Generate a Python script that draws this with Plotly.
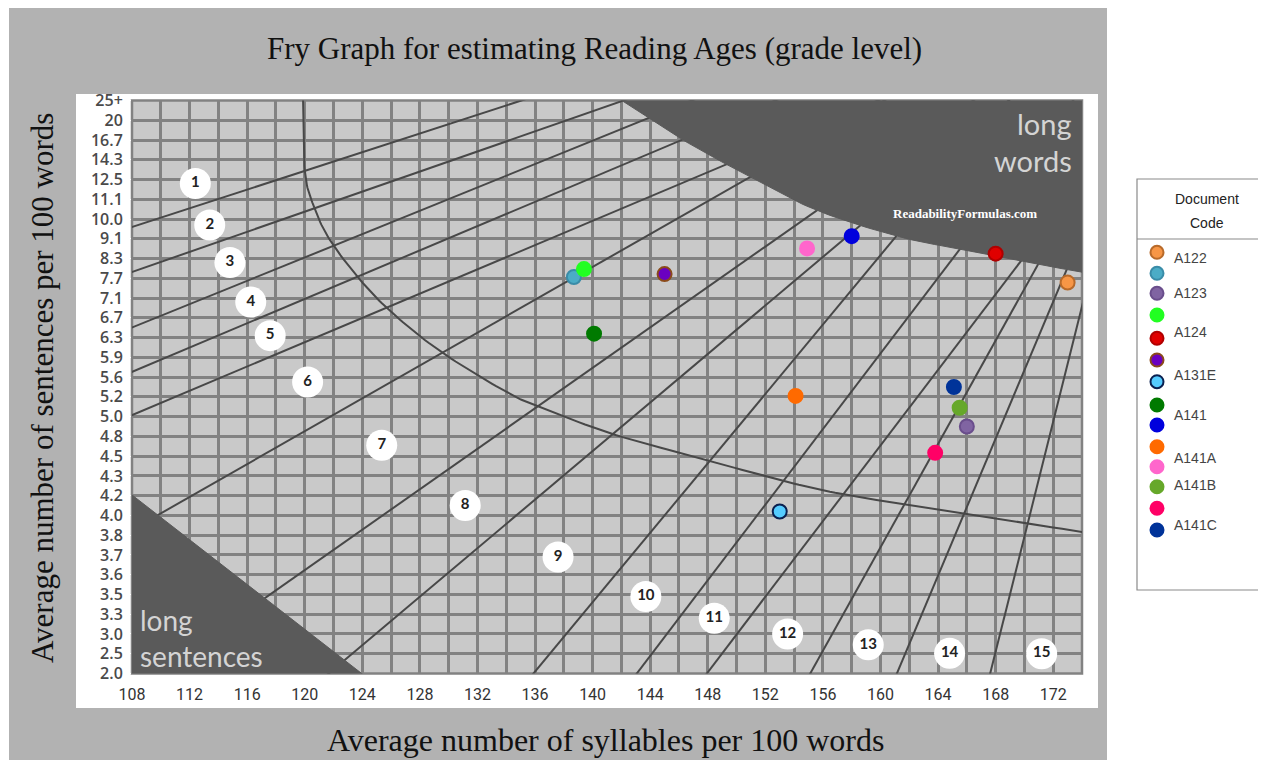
import numpy as np
import plotly.graph_objects as go

W, H = 1266, 766
OFF = 8  # page body margin

# ---------------- data ----------------
x_ticks = list(range(108, 173, 4))
y_tick_labels = ["2.0", "2.5", "3.0", "3.3", "3.5", "3.6", "3.7", "3.8", "4.0", "4.2",
                 "4.3", "4.5", "4.8", "5.0", "5.2", "5.6", "5.9", "6.3", "6.7", "7.1",
                 "7.7", "8.3", "9.1", "10.0", "11.1", "12.5", "14.3", "16.7", "20", "25+"]
y_tick_values = [2.0, 2.5, 3.0, 3.3, 3.5, 3.6, 3.7, 3.8, 4.0, 4.2,
                 4.3, 4.5, 4.8, 5.0, 5.2, 5.6, 5.9, 6.3, 6.7, 7.1,
                 7.7, 8.3, 9.1, 10.0, 11.1, 12.5, 14.3, 16.7, 20, 25]

# documents (syllables per 100 words, sentences per 100 words)
doc_syllables = [173.0, 138.7, 166.0, 139.4, 168.0, 145.0, 153.0, 140.1, 158.0, 154.1, 154.9, 165.5, 163.8, 165.1]
doc_sentences = [7.57, 7.74, 4.90, 7.98, 8.50, 7.83, 4.04, 6.38, 9.22, 5.22, 8.71, 5.09, 4.55, 5.40]
doc_colors = ["#F79646", "#4BACC6", "#8064A2", "#22FF22", "#E00000", "#6A00C0", "#55CCFF",
              "#007A00", "#0000DD", "#FF6A00", "#FF66CC", "#66A82A", "#FF0066", "#003399"]
doc_borders = ["#B86A2A", "#3A8CA8", "#6A4E8C", "#22FF22", "#B00000", "#8B4A1A", "#0A2050",
               "#007A00", "#0000DD", "#FF6A00", "#FF66CC", "#66A82A", "#FF0066", "#003399"]
legend_labels = ["A122", "A123", "A124", "A131E", "A141", "A141A", "A141B", "A141C"]

# grade numbers and their position on the Fry template (syllables, grid row)
grade_numbers = [str(i) for i in range(1, 16)]
grade_x = [112.4, 113.4, 114.8, 116.25, 117.6, 120.2, 125.35, 131.15, 137.6, 143.7, 148.45, 153.55, 159.15, 164.8, 171.2]
grade_row = [24.8, 22.7, 20.8, 18.8, 17.1, 14.75, 11.55, 8.5, 5.9, 3.9, 2.8, 2.0, 1.45, 1.02, 1.0]

# grade boundary lines (two points each, syllables / grid row)
grade_lines = [
    ((108.0, 22.60), (134.5, 28.87)),
    ((108.0, 20.32), (141.2, 28.76)),
    ((108.0, 17.51), (141.2, 27.32)),
    ((108.0, 15.27), (141.2, 25.47)),
    ((108.0, 13.08), (141.2, 23.28)),
    ((109.8, 8.02), (150.95, 25.13)),
    ((117.36, 3.88), (155.58, 23.44)),
    ((122.92, 0.77), (145.85, 14.85)),
    ((135.89, 0.0), (152.8, 14.85)),
    ((143.07, 0.0), (158.59, 14.85)),
    ((147.94, 0.0), (163.46, 14.85)),
    ((155.12, 0.0), (166.47, 14.85)),
    ((161.14, 0.0), (169.71, 14.85)),
    ((167.62, 0.0), (172.72, 14.85)),
]
# curved valid-area line
curve_x = [119.88, 120.0, 120.6, 121.76, 124.05, 126.42, 129.61, 133.78, 135.66, 141.22, 147.47, 153.03, 157.69, 165.75, 174.5]
curve_row = [29.2, 25.47, 23.7, 21.93, 19.75, 18.03, 16.21, 14.34, 13.68, 12.16, 10.9, 9.79, 9.03, 8.12, 7.1]
# long words region boundary
lw_x = [141.6, 146.31, 150.95, 155.58, 161.38, 166.0, 170.63, 174.5]
lw_row = [29.2, 26.99, 25.13, 23.44, 22.09, 21.42, 20.75, 20.25]
# long sentences triangle
ls_x = [107.5, 124.4, 107.5]
ls_row = [9.32, -0.25, -0.25]


def ypos(v):
    return np.interp(v, y_tick_values, np.arange(len(y_tick_values)))


def smooth(xs, ys, n=14):
    P = np.column_stack([xs, ys]).astype(float)
    P = np.vstack([P[0], P, P[-1]])
    out = []
    for i in range(1, len(P) - 2):
        p0, p1, p2, p3 = P[i - 1], P[i], P[i + 1], P[i + 2]
        for t in np.linspace(0, 1, n, endpoint=False):
            out.append(0.5 * ((2 * p1) + (-p0 + p2) * t + (2 * p0 - 5 * p1 + 4 * p2 - p3) * t ** 2
                              + (-p0 + 3 * p1 - 3 * p2 + p3) * t ** 3))
    out.append(P[-2])
    out = np.array(out)
    return out[:, 0], out[:, 1]


def px(x):
    return (x - OFF) / W


def py(y):
    return 1 - (y - OFF) / H


fig = go.Figure()

LINE_COL = "#484848"
# grade lines
for (a, b) in grade_lines:
    a = np.array(a); b = np.array(b)
    p0 = a + (-0.15) * (b - a)
    p1 = a + 3.0 * (b - a)
    fig.add_trace(go.Scatter(x=[p0[0], p1[0]], y=[p0[1], p1[1]], mode="lines",
                             line=dict(color=LINE_COL, width=2), hoverinfo="skip", showlegend=False))

cx, cy = smooth(curve_x, curve_row)
fig.add_trace(go.Scatter(x=cx, y=cy, mode="lines", line=dict(color=LINE_COL, width=2),
                         hoverinfo="skip", showlegend=False))

# dark regions
DARK = "#5a5a5a"
bx, by = smooth(lw_x, lw_row)
fig.add_trace(go.Scatter(x=list(bx) + [175, 175, 141.6], y=list(by) + [20.25, 30, 30], mode="lines",
                         fill="toself", fillcolor=DARK, line=dict(color=DARK, width=1),
                         hoverinfo="skip", showlegend=False))
fig.add_trace(go.Scatter(x=ls_x, y=ls_row, mode="lines", fill="toself", fillcolor=DARK,
                         line=dict(color=DARK, width=1), hoverinfo="skip", showlegend=False))

# grade number circles
fig.add_trace(go.Scatter(x=grade_x, y=grade_row, mode="markers+text", text=grade_numbers,
                         textposition="middle center",
                         textfont=dict(family="Lato", size=15, color="#222222", weight="bold"),
                         marker=dict(size=31, color="white", line=dict(width=0)),
                         hoverinfo="skip", showlegend=False))

# documents
fig.add_trace(go.Scatter(x=doc_syllables, y=ypos(doc_sentences), mode="markers",
                         marker=dict(size=14, color=doc_colors, line=dict(color=doc_borders, width=2)),
                         showlegend=False))

# legend markers (secondary axes in pixel units)
leg_rows = [252.3, 273.3, 293.3, 315, 338.3, 360, 381.7, 405, 425, 446.7, 466.7, 486.7, 508.3, 530]
fig.add_trace(go.Scatter(x=[1157] * len(leg_rows), y=leg_rows, mode="markers", xaxis="x2", yaxis="y2",
                         marker=dict(size=13, color=doc_colors, line=dict(color=doc_borders, width=2)),
                         hoverinfo="skip", showlegend=False))

leg_label_rows = [258.3, 293.3, 331.7, 375, 415, 458.3, 485, 525]

GRID = "#828282"
fig.update_layout(
    width=W, height=H,
    margin=dict(l=0, r=0, t=0, b=0, pad=0, autoexpand=False),
    paper_bgcolor="white",
    plot_bgcolor="rgba(0,0,0,0)",
    showlegend=False,
    xaxis=dict(domain=[px(132), px(1082)], range=[108, 174], tickvals=x_ticks,
               ticktext=[str(v) for v in x_ticks], showgrid=True, gridcolor=GRID, gridwidth=2.5,
               minor=dict(tickvals=list(range(110, 175, 4)), showgrid=True, gridcolor=GRID, gridwidth=2.5),
               zeroline=False, ticks="outside", ticklen=6, tickcolor="white", automargin=False,
               tickfont=dict(family="Liberation Sans Narrow, Roboto", size=16, color="#333333"),
               fixedrange=True),
    yaxis=dict(domain=[py(673.5), py(100.5)], range=[0, 29], tickvals=list(range(30)),
               ticktext=y_tick_labels, showgrid=True, gridcolor=GRID, gridwidth=2.5, zeroline=False,
               ticks="outside", ticklen=5, tickcolor="white", automargin=False,
               tickfont=dict(family="Open Sans", size=16, color="#4a4a4a", weight=600), fixedrange=True),
    xaxis2=dict(domain=[px(1137), px(1265)], range=[1137, 1265], visible=False, anchor="y2"),
    yaxis2=dict(domain=[py(590), py(178)], range=[590, 178], visible=False, anchor="x2"),
)

shapes = [
    # grey outer frame
    dict(type="rect", xref="paper", yref="paper", x0=px(9), x1=px(1107), y0=py(760), y1=py(6),
         fillcolor="#b2b2b2", line=dict(width=0), layer="below"),
    # white panel
    dict(type="rect", xref="paper", yref="paper", x0=px(76), x1=px(1098), y0=py(708), y1=py(94),
         fillcolor="white", line=dict(width=0), layer="below"),
    # plot cells
    dict(type="rect", xref="paper", yref="paper", x0=px(132), x1=px(1082), y0=py(673.5), y1=py(100.5),
         fillcolor="#c9c9c9", line=dict(color=GRID, width=2.5), layer="below"),
    # legend box
    dict(type="rect", xref="paper", yref="paper", x0=px(1137), x1=px(1265), y0=py(590), y1=py(179),
         fillcolor="white", line=dict(color="#8a8a8a", width=1.2), layer="below"),
    dict(type="line", xref="paper", yref="paper", x0=px(1137), x1=px(1265), y0=py(239), y1=py(239),
         line=dict(color="#8a8a8a", width=1.2), layer="below"),
]
fig.update_layout(shapes=shapes)


def label(text, x, y, size, family, color, xanchor="center", angle=0):
    return dict(text=text, x=px(x), y=py(y), xref="paper", yref="paper", showarrow=False,
                xanchor=xanchor, yanchor="middle", textangle=angle,
                font=dict(family=family, size=size, color=color))


ann = []
ann.append(label("Fry Graph for estimating Reading Ages (grade level)", 594, 48, 31, "Liberation Serif", "#111111"))
ann.append(label("Average number of syllables per 100 words", 605, 740, 32, "Liberation Serif", "#111111"))
ann.append(label("Average number of sentences per 100 words", 42, 388, 31, "Liberation Serif", "#111111", angle=-90))
ann.append(label("long", 1074, 123, 29, "Lato", "#d4d4d4", xanchor="right"))
ann.append(label("words", 1074, 160, 29, "Lato", "#d4d4d4", xanchor="right"))
ann.append(label("long", 138, 620, 28, "Lato", "#d4d4d4", xanchor="left"))
ann.append(label("sentences", 138, 656, 28, "Lato", "#d4d4d4", xanchor="left"))
ann.append(label("<b>ReadabilityFormulas.com</b>", 965, 213, 13, "Liberation Serif", "white"))
ann.append(label("Document", 1207, 199, 14, "Liberation Sans", "#222222"))
ann.append(label("Code", 1207, 223, 14, "Liberation Sans", "#222222"))
for lab, yy in zip(legend_labels, leg_label_rows):
    ann.append(dict(text=lab, x=1172, y=yy, xref="x2", yref="y2", xanchor="left", yanchor="middle",
                    showarrow=False, font=dict(family="Liberation Sans", size=14, color="#444444")))
fig.update_layout(annotations=ann)

fig.write_html("out.html")
